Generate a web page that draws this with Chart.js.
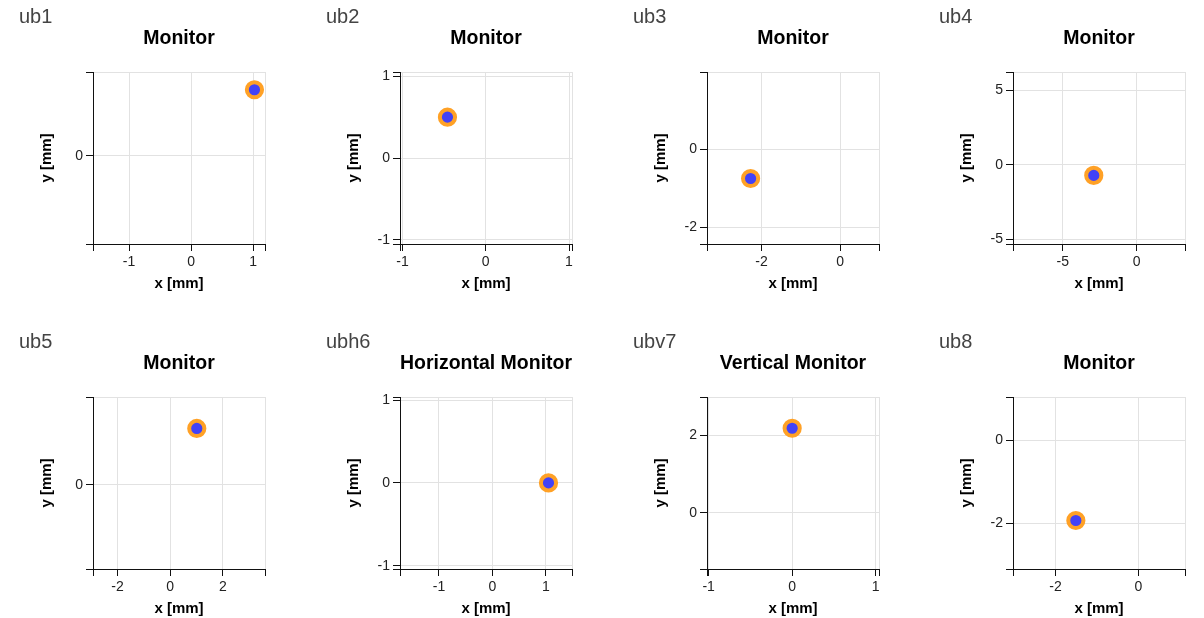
<!DOCTYPE html>
<html>
<head>
<meta charset="utf-8">
<script src="https://cdn.jsdelivr.net/npm/chart.js@4.4.1/dist/chart.umd.min.js"></script>
<style>
  html, body { margin: 0; padding: 0; background: #fff; }
  #grid { position: relative; width: 1204px; height: 618px; }
  #grid canvas { position: absolute; }
</style>
</head>
<body>
<div id="grid"></div>
<script>
// beam position monitors, one reading each
const panelNames = ['ub1', 'ub2', 'ub3', 'ub4', 'ub5', 'ubh6', 'ubv7', 'ub8'];
const panelTitles = ['Monitor', 'Monitor', 'Monitor', 'Monitor',
                     'Monitor', 'Horizontal Monitor', 'Vertical Monitor', 'Monitor'];

const pointX = [1.02, -0.46, -2.28, -2.9, 1.01, 1.05, 0.0, -1.51];
const pointY = [0.71, 0.50, -0.75, -0.72, 0.61, 0.0, 2.19, -1.93];

// axis ranges
const xMin = [-1.58, -1.03, -3.39, -8.37, -2.93, -1.73, -1.02, -3.03];
const xMax = [1.19, 1.036, 0.99, 3.28, 3.6, 1.49, 1.04, 1.13];
const yMin = [-0.943, -1.053, -2.43, -5.33, -0.909, -1.04, -1.46, -3.1];
const yMax = [0.9, 1.053, 1.98, 6.23, 0.95, 1.037, 3.0, 1.05];

// labelled ticks
const xTicks = [[-1, 0, 1], [-1, 0, 1], [-2, 0], [-5, 0], [-2, 0, 2], [-1, 0, 1], [-1, 0, 1], [-2, 0]];
const yTicks = [[0], [-1, 0, 1], [-2, 0], [-5, 0, 5], [0], [-1, 0, 1], [0, 2], [-2, 0]];

const colLeft = [0, 307, 614, 920];
const rowTop = [0, 325];

Chart.defaults.font.family = "'Liberation Sans', Helvetica, Arial, sans-serif";
Chart.defaults.color = '#222';

const panelLabel = {
  id: 'panelLabel',
  afterDraw(chart, args, opts) {
    const ctx = chart.ctx;
    ctx.save();
    ctx.font = "20px 'Liberation Sans', Helvetica, Arial, sans-serif";
    ctx.fillStyle = '#444';
    ctx.textBaseline = 'alphabetic';
    ctx.textAlign = 'left';
    ctx.fillText(opts.text, 19, 22.5);
    ctx.restore();
  }
};

function axis(min, max, labelled, title, isX) {
  return {
    type: 'linear',
    position: isX ? 'bottom' : 'left',
    min: min,
    max: max,
    afterBuildTicks: (scale) => {
      scale.ticks = [min].concat(labelled, [max]).map(v => ({value: v}));
    },
    afterFit: (scale) => {
      if (isX) scale.height = 56;
      else scale.width = 93;
    },
    ticks: {
      autoSkip: false,
      maxRotation: 0,
      padding: 3,
      color: '#222',
      font: {size: 14},
      callback: (v) => labelled.includes(v) ? String(v) : ''
    },
    grid: {
      color: '#e2e2e2',
      tickColor: '#111',
      tickLength: 7,
      lineWidth: 1
    },
    border: {color: '#111', width: 1},
    title: {
      display: true,
      text: title,
      color: '#000',
      font: {size: 15, weight: 'bold'},
      padding: isX ? {top: 0, bottom: 7.5} : {top: 38, bottom: 0}
    }
  };
}

const grid = document.getElementById('grid');

panelNames.forEach((name, i) => {
  const canvas = document.createElement('canvas');
  canvas.width = 290;
  canvas.height = 300;
  canvas.style.left = colLeft[i % 4] + 'px';
  canvas.style.top = rowTop[Math.floor(i / 4)] + 'px';
  grid.appendChild(canvas);

  new Chart(canvas, {
    type: 'scatter',
    data: {
      datasets: [{
        data: [{x: pointX[i], y: pointY[i]}],
        backgroundColor: '#4242f7',
        borderColor: '#ffa126',
        borderWidth: 4,
        pointRadius: 7.6,
        pointHoverRadius: 7.6,
        pointBorderWidth: 4
      }]
    },
    options: {
      responsive: false,
      animation: false,
      layout: {padding: {left: 0, top: 26.6, right: 25, bottom: 0}},
      scales: {
        x: axis(xMin[i], xMax[i], xTicks[i], 'x [mm]', true),
        y: axis(yMin[i], yMax[i], yTicks[i], 'y [mm]', false)
      },
      plugins: {
        legend: {display: false},
        tooltip: {enabled: false},
        title: {
          display: true,
          text: panelTitles[i],
          fullSize: false,
          color: '#000',
          font: {size: 19.5, weight: 'bold'},
          padding: {top: 0, bottom: 22}
        },
        panelLabel: {text: name}
      }
    },
    plugins: [panelLabel]
  });
});
</script>
</body>
</html>
